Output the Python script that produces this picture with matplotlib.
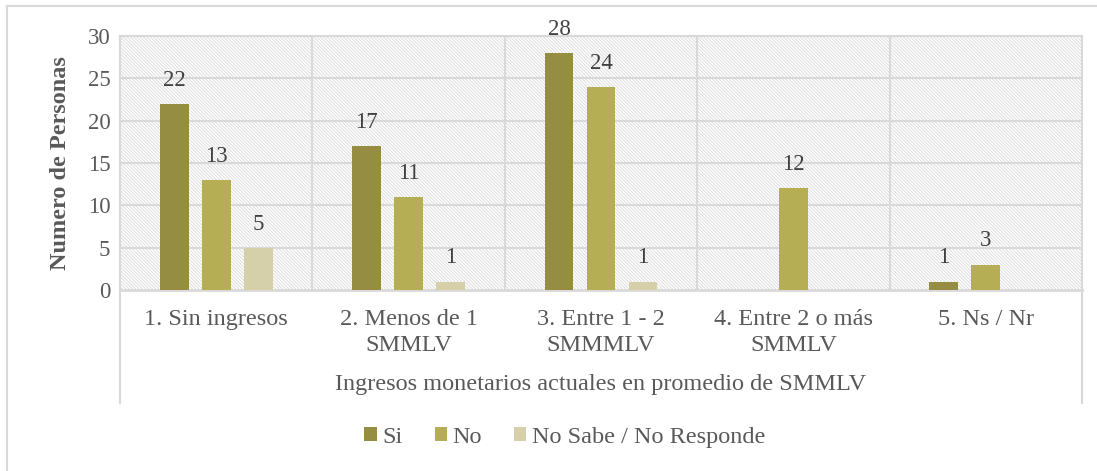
import matplotlib
matplotlib.use('Agg')
import matplotlib.pyplot as plt
import matplotlib.patches as patches
from matplotlib.lines import Line2D
import numpy as np

categories = ['1. Sin ingresos', '2. Menos de 1\nSMMLV', '3. Entre 1 - 2\nSMMMLV',
              '4. Entre 2 o más\nSMMLV', '5. Ns / Nr']
series_names = ['Si', 'No', 'No Sabe / No Responde']
si = [22, 17, 28, 0, 1]
no = [13, 11, 24, 12, 3]
ns_nr = [5, 1, 1, 0, 0]
y_ticks = [0, 5, 10, 15, 20, 25, 30]

colors = ['#958D42', '#B6AE55', '#D5D0AA']
text_col = '#595959'
grid_col = '#D9D9D9'

plt.rcParams['font.family'] = ['Liberation Serif', 'DejaVu Serif']
plt.rcParams['hatch.linewidth'] = 0.6
plt.rcParams['hatch.color'] = '#D9D9D9'

fig = plt.figure(figsize=(10.97, 4.71), dpi=100)
ax = fig.add_axes([0.1094, 0.3843, 0.8769, 0.5393])

# hatched background
bg = patches.Rectangle((0, 0), 1, 1, transform=ax.transAxes, facecolor='white',
                       edgecolor='#D9D9D9', hatch='\\' * 10, linewidth=0, zorder=0)
ax.add_patch(bg)

x = np.arange(len(categories))
w = 0.15
step = 0.218
for i, (vals, name) in enumerate(zip([si, no, ns_nr], series_names)):
    pos = x + (i - 1) * step
    ax.bar(pos, vals, width=w, color=colors[i], label=name, zorder=3)
    for p, v in zip(pos, vals):
        if v > 0:
            ax.annotate(str(v), (p, v), xytext=(0, 17), textcoords='offset points',
                        ha='center', va='center', fontsize=16.5, color='#404040', zorder=4)

ax.set_xlim(-0.5, len(categories) - 0.5)
ax.set_ylim(0, 30)
ax.set_yticks(y_ticks)
ax.set_xticks(x)
ax.set_xticklabels(categories, fontsize=17.5, color=text_col, linespacing=1.3)
ax.tick_params(axis='y', labelsize=16.5, colors=text_col, length=0, pad=7)
ax.tick_params(axis='x', length=0, pad=14)

# gridlines
for t in y_ticks[1:]:
    ax.axhline(t, color=grid_col, linewidth=1.5, zorder=1)
for b in np.arange(0.5, len(categories) - 0.5, 1):
    ax.axvline(b, color=grid_col, linewidth=1.5, zorder=1)

for s in ['top', 'right', 'left']:
    ax.spines[s].set_color(grid_col)
    ax.spines[s].set_linewidth(1.5)
ax.spines['bottom'].set_color(grid_col)
ax.spines['bottom'].set_linewidth(2)

# vertical lines extending below axis
for xa in [0, 1]:
    ax.add_line(Line2D([xa, xa], [0, -0.445], transform=ax.transAxes, color=grid_col,
                       linewidth=1.5, clip_on=False))

ax.set_ylabel('Numero de Personas', fontsize=17.5, fontweight='bold', color=text_col, labelpad=12)
ax.set_xlabel('Ingresos monetarios actuales en promedio de SMMLV', fontsize=17.5,
              color=text_col, labelpad=13)

leg = fig.legend(loc='center', bbox_to_anchor=(0.515, 0.072), ncol=3, frameon=False,
                 fontsize=17.5, handlelength=0.5, handleheight=0.5, handletextpad=0.25,
                 columnspacing=1.3)
for t in leg.get_texts():
    t.set_color(text_col)

# outer chart border (top and left only visible)
fig.add_artist(Line2D([0.0064, 1.0], [0.987, 0.987], transform=fig.transFigure,
                      color=grid_col, linewidth=1.5))
fig.add_artist(Line2D([0.0064, 0.0064], [0.0, 0.987], transform=fig.transFigure,
                      color=grid_col, linewidth=1.5))

fig.savefig('out.png', dpi=100)
